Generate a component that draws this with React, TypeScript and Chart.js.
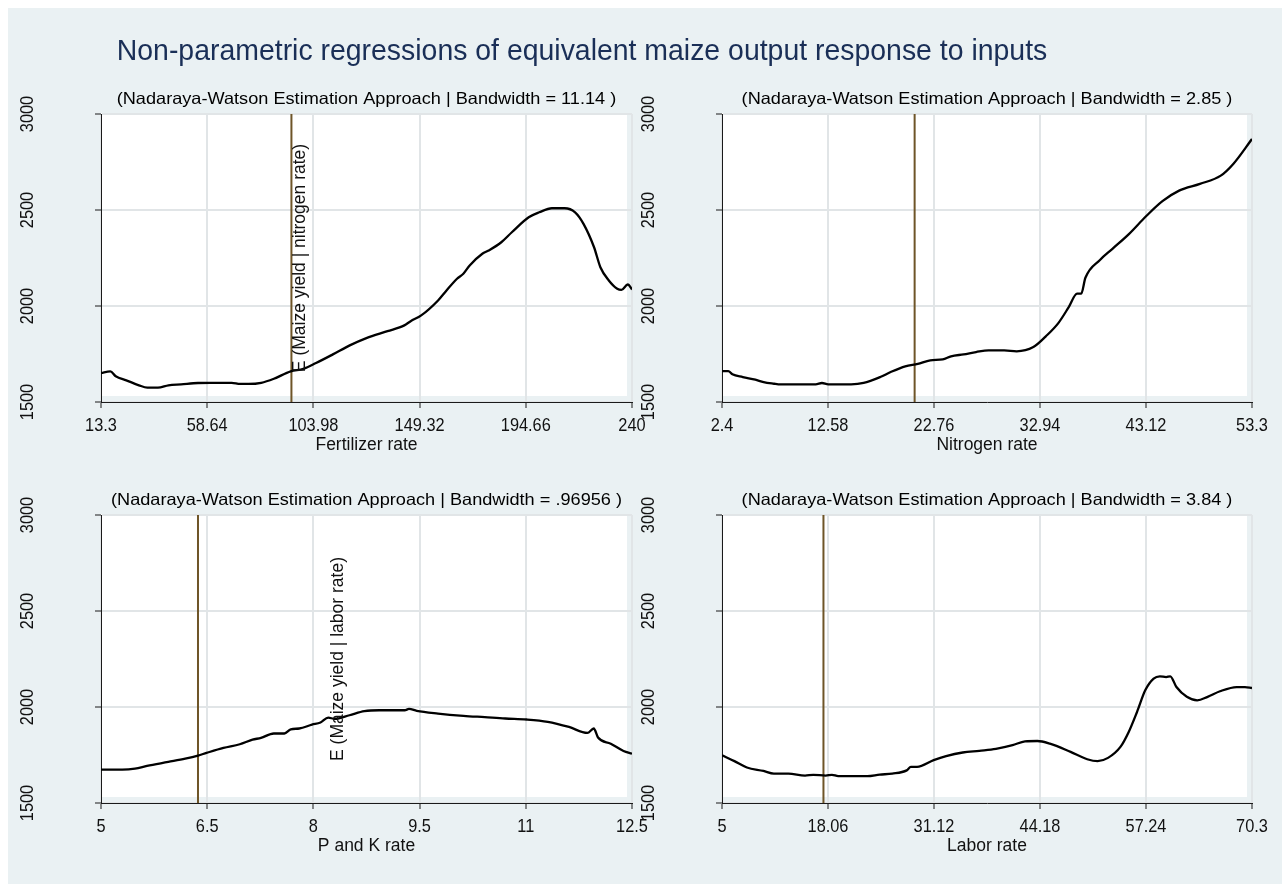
import React, { useEffect, useRef } from "react";
import { Chart, registerables } from "chart.js";

Chart.register(...registerables);

// ---------- data ----------
const mainTitle = "Non-parametric regressions of equivalent maize output response to inputs";

const yTicks = [1500, 2000, 2500, 3000];

const fertTicks = [13.3, 58.64, 103.98, 149.32, 194.66, 240];
const fertX = [13.3, 17.3, 19.6, 24.1, 29.5, 33.1, 37.6, 42.1, 47.5, 54.7, 60.1, 69.1, 72.7, 76.3, 81.7, 87.1, 94.3, 99.7, 105.1, 112.3, 119.5, 126.6, 135.6, 142.8, 145.5, 150.0, 157.2, 160.8, 165.3, 168.0, 170.7, 176.1, 178.8, 184.2, 188.7, 195.9, 200.4, 205.8, 211.2, 215.7, 219.3, 223.8, 226.5, 230.1, 233.7, 235.5, 238.2, 240];
const fertY = [1651, 1660, 1634, 1613, 1587, 1575, 1575, 1587, 1592, 1599, 1600, 1600, 1594, 1594, 1600, 1621, 1660, 1673, 1703, 1748, 1795, 1833, 1869, 1899, 1921, 1951, 2029, 2081, 2142, 2168, 2211, 2272, 2289, 2332, 2384, 2462, 2488, 2509, 2509, 2488, 2428, 2306, 2202, 2133, 2090, 2084, 2112, 2086];

const nitroTicks = [2.4, 12.58, 22.76, 32.94, 43.12, 53.3];
const nitroX = [2.4, 3.0, 3.4, 4.4, 5.6, 6.4, 7.4, 7.8, 9.6, 11.4, 12.0, 12.6, 14.8, 16.0, 17.6, 18.6, 20.0, 21.2, 22.4, 23.6, 24.4, 25.6, 26.8, 28.0, 29.5, 30.7, 32.3, 33.5, 34.7, 35.7, 36.5, 36.9, 37.3, 38.7, 39.9, 41.5, 43.1, 44.7, 46.3, 48.3, 50.3, 51.5, 53.3];
const nitroY = [1661, 1661, 1644, 1630, 1616, 1604, 1595, 1592, 1592, 1592, 1599, 1592, 1592, 1599, 1630, 1656, 1686, 1699, 1717, 1722, 1738, 1748, 1760, 1769, 1769, 1764, 1786, 1842, 1911, 1994, 2064, 2064, 2147, 2240, 2298, 2376, 2466, 2546, 2601, 2636, 2679, 2740, 2870];

const pkTicks = [5, 6.5, 8, 9.5, 11, 12.5];
const pkX = [5.0, 5.30, 5.48, 5.65, 5.95, 6.19, 6.37, 6.49, 6.73, 6.96, 7.14, 7.26, 7.44, 7.59, 7.68, 7.80, 7.98, 8.10, 8.21, 8.30, 8.51, 8.72, 8.93, 9.29, 9.35, 9.46, 9.76, 10.12, 10.42, 10.71, 11.01, 11.31, 11.61, 11.87, 11.96, 12.02, 12.20, 12.38, 12.5];
const pkY = [1674, 1674, 1679, 1693, 1714, 1731, 1747, 1761, 1787, 1806, 1830, 1839, 1862, 1862, 1884, 1888, 1908, 1919, 1945, 1938, 1957, 1978, 1983, 1983, 1990, 1980, 1966, 1954, 1947, 1940, 1935, 1923, 1896, 1865, 1888, 1841, 1809, 1771, 1757];

const laborTicks = [5, 18.06, 31.12, 44.18, 57.24, 70.3];
const laborX = [5.0, 6.53, 8.07, 10.11, 11.39, 13.18, 15.23, 16.25, 17.78, 18.55, 19.32, 22.90, 24.43, 25.97, 27.76, 28.27, 29.03, 31.08, 32.61, 34.66, 36.70, 38.75, 40.80, 42.33, 43.86, 45.40, 47.95, 50.00, 51.28, 52.56, 54.09, 55.11, 56.14, 57.16, 58.18, 58.95, 59.72, 60.23, 60.99, 62.27, 63.55, 64.83, 66.36, 68.41, 69.43, 70.3];
const laborY = [1749, 1718, 1685, 1667, 1653, 1653, 1643, 1647, 1643, 1647, 1640, 1640, 1648, 1653, 1670, 1688, 1688, 1723, 1744, 1763, 1772, 1782, 1801, 1821, 1823, 1809, 1766, 1728, 1718, 1735, 1792, 1870, 1975, 2088, 2148, 2160, 2156, 2160, 2104, 2053, 2035, 2053, 2082, 2104, 2104, 2099];

const meanLines = [94.6, 20.9, 6.37, 17.5];
const subtitles = [
  "(Nadaraya-Watson Estimation Approach | Bandwidth = 11.14 )",
  "(Nadaraya-Watson Estimation Approach | Bandwidth = 2.85 )",
  "(Nadaraya-Watson Estimation Approach | Bandwidth = .96956 )",
  "(Nadaraya-Watson Estimation Approach | Bandwidth = 3.84 )",
];
const xTitles = ["Fertilizer rate", "Nitrogen rate", "P and K rate", "Labor rate"];
const notes = ["E (Maize yield | nitrogen rate)", "", "E (Maize yield | labor rate)", ""];

// ---------- layout / style ----------
const W = 1274;
const H = 876;
const BG = "#EAF1F3";
const GRID = "#E1E5E7";
const AXIS = "#1a1a1a";
const BROWN = "#6E5528";
const FONT = '"Liberation Sans", Arial, sans-serif';

const boxes = [
  { l: 93, r: 624, t: 106, b: 394 },
  { l: 714, r: 1244, t: 106, b: 394 },
  { l: 93, r: 624, t: 507, b: 795 },
  { l: 714, r: 1244, t: 507, b: 795 },
];
const noteOffsets = [198, 0, 236, 0];

const panelData = [
  { xs: fertX, ys: fertY, ticks: fertTicks },
  { xs: nitroX, ys: nitroY, ticks: nitroTicks },
  { xs: pkX, ys: pkY, ticks: pkTicks },
  { xs: laborX, ys: laborY, ticks: laborTicks },
];

function drawText(ctx: CanvasRenderingContext2D, text: string, x: number, y: number, size: number, sx: number, align: CanvasTextAlign, rot: boolean, color: string) {
  ctx.save();
  ctx.translate(x, y);
  if (rot) ctx.rotate(-Math.PI / 2);
  ctx.scale(sx, 1);
  ctx.font = `${size}px ${FONT}`;
  ctx.fillStyle = color;
  ctx.textAlign = align;
  ctx.textBaseline = "alphabetic";
  ctx.fillText(text, 0, 0.358 * size);
  ctx.restore();
}

function makeChart(canvas: HTMLCanvasElement, i: number) {
  const p = panelData[i];
  const box = boxes[i];
  const ticks = p.ticks;
  const xmin = ticks[0];
  const xmax = ticks[ticks.length - 1];

  const whitePlugin = {
    id: "whiteRegion" + i,
    beforeDraw(chart: any) {
      const { ctx, chartArea: a } = chart;
      ctx.save();
      ctx.fillStyle = "#ffffff";
      ctx.fillRect(a.left, a.top - 1, a.right - a.left - 5, a.bottom - a.top - 5);
      ctx.restore();
    },
  };

  const textPlugin = {
    id: "texts" + i,
    afterDraw(chart: any) {
      const { ctx, chartArea: a, scales } = chart;
      const xs = scales.x;
      const ys = scales.y;
      const cx = (a.left + a.right) / 2;
      if (i === 0) {
        drawText(ctx, mainTitle, 574, 42, 29, 0.98, "center", false, "#1A2F57");
      }
      drawText(ctx, subtitles[i], cx, a.top - 15.5, 16.5, 1.1, "center", false, "#000");
      ticks.forEach((v) => {
        drawText(ctx, String(v), xs.getPixelForValue(v), a.bottom + 22, 19, 0.86, "center", false, "#111");
      });
      drawText(ctx, xTitles[i], cx, a.bottom + 41.5, 17.5, 1.0, "center", false, "#111");
      yTicks.forEach((v) => {
        drawText(ctx, String(v), a.left - 75, ys.getPixelForValue(v), 19, 0.86, "center", true, "#111");
      });
      if (notes[i]) {
        drawText(ctx, notes[i], a.left + noteOffsets[i], (a.top + a.bottom) / 2, 17.5, 1.0, "center", true, "#111");
      }
    },
  };

  return new Chart(canvas, {
    type: "line",
    data: {
      datasets: [
        {
          data: p.xs.map((x, k) => ({ x, y: p.ys[k] })),
          borderColor: "#000000",
          borderWidth: 2.3,
          pointRadius: 0,
          cubicInterpolationMode: "monotone",
          fill: false,
          order: 0,
        },
        {
          data: [
            { x: meanLines[i], y: 1500 },
            { x: meanLines[i], y: 3000 },
          ],
          borderColor: BROWN,
          borderWidth: 2,
          pointRadius: 0,
          fill: false,
          order: 1,
        },
      ],
    },
    options: {
      animation: false,
      responsive: false,
      maintainAspectRatio: false,
      devicePixelRatio: 1,
      events: [],
      layout: { padding: { left: box.l, right: W - box.r, top: box.t, bottom: H - box.b } },
      plugins: { legend: { display: false }, tooltip: { enabled: false }, title: { display: false } },
      scales: {
        x: {
          type: "linear",
          min: xmin,
          max: xmax,
          afterBuildTicks: (s: any) => {
            s.ticks = ticks.map((v) => ({ value: v }));
          },
          afterFit: (s: any) => {
            s.height = 0;
          },
          ticks: { display: false },
          grid: { color: GRID, lineWidth: 2, drawTicks: true, tickLength: 6, tickColor: AXIS, tickWidth: 1 },
          border: { display: true, color: AXIS, width: 1 },
        },
        y: {
          type: "linear",
          min: 1500,
          max: 3000,
          afterBuildTicks: (s: any) => {
            s.ticks = yTicks.map((v) => ({ value: v }));
          },
          afterFit: (s: any) => {
            s.width = 0;
          },
          ticks: { display: false },
          grid: { color: GRID, lineWidth: 2, drawTicks: true, tickLength: 6, tickColor: AXIS, tickWidth: 1 },
          border: { display: true, color: AXIS, width: 1 },
        },
      },
    } as any,
    plugins: [whitePlugin, textPlugin],
  });
}

export default function App() {
  const refs = [useRef<HTMLCanvasElement>(null), useRef<HTMLCanvasElement>(null), useRef<HTMLCanvasElement>(null), useRef<HTMLCanvasElement>(null)];

  useEffect(() => {
    const charts = refs.map((r, i) => makeChart(r.current as HTMLCanvasElement, i));
    return () => charts.forEach((c) => c.destroy());
  }, []);

  return (
    <div style={{ position: "fixed", left: 8, top: 8, width: W, height: H, background: BG, overflow: "hidden" }}>
      {refs.map((r, i) => (
        <canvas key={i} ref={r} width={W} height={H} style={{ position: "absolute", left: 0, top: 0, width: W, height: H }} />
      ))}
    </div>
  );
}
